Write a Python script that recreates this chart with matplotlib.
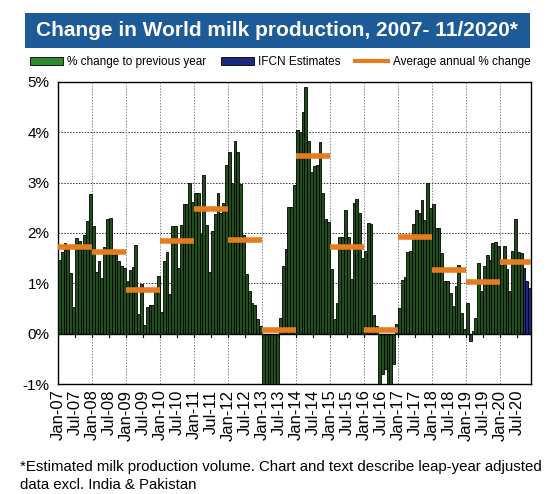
import matplotlib
matplotlib.use("Agg")
import matplotlib.pyplot as plt
import numpy as np
from matplotlib.patches import Rectangle
from matplotlib.lines import Line2D

plt.rcParams['font.family'] = ['Liberation Sans', 'DejaVu Sans']

# ---- data (monthly % change to previous year, Jan-07 .. Nov-20) ----
y2007 = [1.46, 1.62, 1.80, 1.77, 1.20, 0.53, 1.91, 1.85, 1.70, 1.97, 2.23, 2.77]
y2008 = [2.13, 1.22, 1.45, 1.10, 1.72, 2.28, 2.30, 1.56, 1.58, 1.44, 1.34, 1.30]
y2009 = [1.05, 1.27, 1.33, 1.77, 0.40, 0.98, 0.18, 0.52, 0.56, 0.56, 0.84, 1.15]
y2010 = [0.43, 1.45, 1.62, 0.79, 2.13, 2.13, 1.30, 2.15, 2.57, 2.57, 3.00, 2.62]
y2011 = [2.80, 2.80, 2.00, 3.15, 2.15, 1.22, 2.03, 2.38, 2.80, 2.40, 2.60, 3.35]
y2012 = [3.60, 3.00, 3.82, 3.60, 2.97, 1.97, 1.19, 0.84, 0.61, 0.56, 0.30, 0.15]
y2013 = [-1.50, -1.90, -2.00, -1.80, -1.60, -1.30, 0.31, 1.34, 1.68, 2.52, 2.52, 2.95]
y2014 = [4.05, 4.00, 4.40, 4.90, 3.82, 3.22, 3.33, 3.35, 3.80, 2.80, 2.27, 2.22]
y2015 = [1.28, 0.30, 0.60, 1.93, 1.93, 2.45, 1.93, 1.08, 2.60, 2.68, 2.40, 1.50]
y2016 = [1.65, 2.20, 2.18, 0.38, 0.15, -1.10, -0.80, -0.70, -1.20, -1.15, -0.60, 0.20]
y2017 = [0.50, 1.07, 1.12, 1.63, 1.65, 2.17, 2.45, 2.40, 2.65, 2.25, 3.00, 2.50]
y2018 = [2.58, 2.10, 2.10, 1.60, 1.05, 1.04, 0.81, 0.54, 0.95, 1.37, 0.41, 0.10]
y2019 = [0.60, -0.15, 0.05, 0.31, 1.40, 0.84, 1.34, 1.56, 1.47, 1.80, 1.82, 1.74]
y2020 = [1.37, 1.74, 1.28, 0.85, 1.64, 2.28, 1.62, 1.60]
ifcn_estimates = [1.31, 1.04, 0.90]   # Sep-20 .. Nov-20

years = [2007, 2008, 2009, 2010, 2011, 2012, 2013, 2014, 2015, 2016, 2017, 2018, 2019, 2020]
annual_avg = [1.72, 1.62, 0.87, 1.85, 2.47, 1.86, 0.08, 3.52, 1.73, 0.07, 1.92, 1.27, 1.02, 1.42]

tick_labels = ["Jan-07", "Jul-07", "Jan-08", "Jul-08", "Jan-09", "Jul-09", "Jan-10", "Jul-10",
               "Jan-11", "Jul-11", "Jan-12", "Jul-12", "Jan-13", "Jul-13", "Jan-14", "Jul-14",
               "Jan-15", "Jul-15", "Jan-16", "Jul-16", "Jan-17", "Jul-17", "Jan-18", "Jul-18",
               "Jan-19", "Jul-19", "Jan-20", "Jul-20"]
y_ticks = [-1, 0, 1, 2, 3, 4, 5]

actual = (y2007 + y2008 + y2009 + y2010 + y2011 + y2012 + y2013 + y2014 +
          y2015 + y2016 + y2017 + y2018 + y2019 + y2020)
n_act = len(actual)
n_all = n_act + len(ifcn_estimates)

# ---- figure ----
fig = plt.figure(figsize=(5.5, 4.94), dpi=100)
fig.patch.set_facecolor("white")

# title banner
fig.patches.append(Rectangle((25/550, 1-48/494), 505/550, 35/494, transform=fig.transFigure,
                             facecolor="#1c5a98", edgecolor="none", zorder=0))
fig.text(277/550, 1-31/494, "Change in World milk production, 2007- 11/2020*",
         color="white", fontsize=15, fontweight="bold", ha="center", va="center")

ax = fig.add_axes([58/550, 1-384/494, 473/550, 302/494])

green = "#1f5019"
navy = "#1b2a80"
orange = "#e57c22"

x_act = np.arange(n_act)
x_est = np.arange(n_act, n_all)
ax.bar(x_act, actual, width=1.0, color=green, edgecolor="black", linewidth=0.6, zorder=3)
ax.bar(x_est, ifcn_estimates, width=1.0, color=navy, edgecolor="black", linewidth=0.6, zorder=3)

# annual averages
for k, (yr, avg) in enumerate(zip(years, annual_avg)):
    x0 = k * 12 - 0.5
    x1 = min(x0 + 12, n_all - 0.5)
    ax.plot([x0, x1], [avg, avg], color=orange, lw=4, solid_capstyle="butt", zorder=4)

ax.set_xlim(-0.5, n_all - 0.5)
ax.set_ylim(-1, 5)

# grid
for yv in y_ticks:
    ax.axhline(yv, color="#333333", lw=0.7, ls=(0, (1.5, 1.5)), zorder=1)
for k in range(1, len(years)):
    ax.axvline(k * 12 - 0.5, color="#888888", lw=0.7, ls=(0, (1.5, 1.5)), zorder=1)
ax.axhline(0, color="black", lw=1.0, zorder=5)

tick_pos = [-0.5 + 6 * k for k in range(len(tick_labels))]
for tp in tick_pos:
    ax.plot([tp, tp], [0, -0.07], color="black", lw=0.8, zorder=5)

ax.set_xticks(tick_pos)
ax.set_xticklabels(tick_labels, rotation=90, fontsize=12)
ax.tick_params(axis="x", length=0, pad=4)
ax.set_yticks(y_ticks)
ax.set_yticklabels([f"{v}%" for v in y_ticks], fontsize=11)
ax.tick_params(axis="y", length=0, pad=6)
for s in ax.spines.values():
    s.set_color("black")
    s.set_linewidth(1.0)

# legend
handles = [Rectangle((0, 0), 1, 1, facecolor="#2f8a2f", edgecolor="black", linewidth=0.6),
           Rectangle((0, 0), 1, 1, facecolor=navy, edgecolor="black", linewidth=0.6),
           Line2D([0], [0], color=orange, lw=3)]
fig.legend(handles, ["% change to previous year", "IFCN Estimates", "Average annual % change"],
           loc="center", bbox_to_anchor=(280/550, 1-62/494), ncol=3, frameon=False,
           fontsize=8.5, handlelength=2.8, handleheight=0.6, columnspacing=1.2, handletextpad=0.4)

fig.text(20/550, 1-467/494, "*Estimated milk production volume. Chart and text describe leap-year adjusted",
         fontsize=10.8, ha="left", va="center")
fig.text(20/550, 1-485/494, "data excl. India & Pakistan", fontsize=10.8, ha="left", va="center")

fig.savefig("out.png", dpi=100, facecolor="white")
